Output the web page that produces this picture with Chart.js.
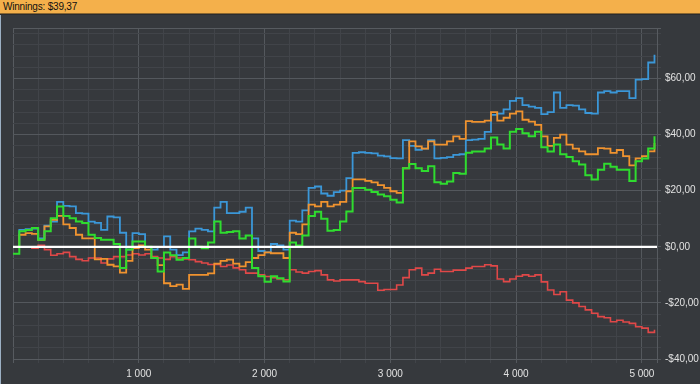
<!DOCTYPE html>
<html>
<head>
<meta charset="utf-8">
<script src="https://cdn.jsdelivr.net/npm/chart.js@4"></script>
<style>
    html, body {
        margin: 0;
        padding: 0;
        width: 700px;
        height: 384px;
        overflow: hidden;
        background: #36393d;
    }
    #header {
        height: 13px;
        background: #f4b04b;
        border-bottom: 1px solid #8a6630;
        box-shadow: 0 1px 0 #2a2c2f;
        font: 10px "Liberation Sans", Arial, sans-serif;
        letter-spacing: -0.2px;
        color: #111111;
        line-height: 13px;
        padding-left: 3px;
        white-space: nowrap;
    }
    #wrap {
        position: absolute;
        left: 0;
        top: 15px;
        width: 700px;
        height: 369px;
        border-left: 1px solid #9cb0c4;
        box-sizing: border-box;
    }
</style>
</head>
<body>
<div id="header">Winnings: $39,37</div>
<div id="wrap"><canvas id="winningsChart" width="699" height="369"></canvas></div>
<script>
// one sample every 50 trades
const tradeStep = 50;
const xTicks = [0, 200, 400, 600, 800, 1000, 1200, 1400, 1600, 1800, 2000, 2200, 2400, 2600, 2800,
    3000, 3200, 3400, 3600, 3800, 4000, 4200, 4400, 4600, 4800, 5000, 5120];
const yTicks = [-40, -36, -32, -28, -24, -20, -16, -12, -8, -4, 0, 4, 8, 12, 16, 20, 24, 28, 32,
    36, 40, 44, 48, 52, 56, 60, 64, 68, 72, 76, 78];

const blueSeries = [
    0, 6, 6.3, 6.5, 3, 7.5, 9, 16, 14.6, 14.4,
    12, 11.8, 9, 8.5, 6, 10.8, 10.5, 5, -1, 4.9,
    4.5, 0, -1, 0, 3.7, -1, -3, -2, 5.5, 6.5,
    6, 5.5, 14, 16, 12, 12, 12.5, 14, 3, -1.5,
    -2, 1, 0.5, -1, 9.3, 9, 13, 21, 21.5, 19,
    18.2, 19.5, 20, 24.5, 33.5, 33.7, 33.5, 33.3, 32.5, 32.2,
    31.6, 31.5, 38, 36, 34.6, 35, 38, 31.5, 31.7, 32,
    32.8, 33, 38, 38.2, 38.5, 41, 47, 47.5, 49, 52,
    53, 50.5, 50, 49.5, 47.3, 48, 55, 49.5, 50.5, 50.3,
    49, 47.7, 47.5, 55, 55.5, 55, 55.5, 55.5, 53, 59.6,
    59.8, 65.7, 68.5
];
const orangeSeries = [
    0, 4.3, 4.9, 4.6, 2.5, 7.3, 9.6, 11, 8, 6.7,
    4.3, 3, 3, -4.5, -4.3, -6.4, -7, -9.2, -5, -0.5,
    0.5, -1, -4, -6.5, -13, -14, -13.5, -15, -10, -10,
    -10, -9.5, -6, -5, -4.6, -6, -7, -5.5, -4, -3,
    -2, -2.3, -2.3, -4, 5, 4.5, 8, 15, 14.4, 16,
    14.4, 15, 16, 19.8, 24, 24, 23.5, 23, 22, 21,
    19.8, 19.2, 28, 37.6, 35.8, 35, 37.6, 36.4, 36.4, 37.6,
    39.4, 38.5, 44.8, 44.5, 44.5, 45, 48, 45, 46, 47.5,
    48.3, 45.3, 44.6, 43.5, 39.4, 36, 38.8, 40, 36.4, 35,
    34, 33, 33, 35.2, 35, 33.5, 34.5, 32.3, 29, 31.5,
    32.3, 34, 37
];
const greenSeries = [
    -2.5, 5.5, 6, 6.7, 2.5, 5.5, 10.2, 14.4, 11, 10.2,
    9, 8.5, 4.3, 3.1, 2.5, 2.5, 1, -7.6, -1, 1.9,
    1.9, 0, -4, -8.8, -2, -3, -4.6, -4, 3, 0,
    -0.5, 1.5, 9, 5, 5.3, 5.5, 3, 4, -7.6, -10.5,
    -12.5, -10.5, -11.2, -12.4, 1.5, 0.5, 4, 11, 12.5, 10,
    5.7, 6, 9, 12.6, 21, 21, 20.3, 19.5, 18.6, 18,
    16.8, 15.8, 28, 29.5, 28, 27, 28.7, 23, 22.5, 23.3,
    26.3, 26, 33.5, 34, 34, 35, 39, 36.5, 35, 41,
    42, 40.5, 39.4, 41, 35.5, 34, 36.5, 33, 32, 30.5,
    29.3, 25.5, 24, 27.5, 29.6, 28.5, 27.5, 27.5, 23.5, 30.5,
    31.5, 35, 39.4
];
const redSeries = [
    0, 0, 0, -0.5, 0.5, -1, -3, -2.5, -2, -3.5,
    -4.5, -5, -4, -4, -5.8, -4.3, -3.5, -3.5, -2.9, -2.5,
    -2.9, -2.5, -3.5, -4, -4.5, -3.5, -4, -4.3, -4.6, -5.3,
    -5.8, -6.3, -6.3, -7, -6.5, -7.5, -8.2, -9.4, -9.4, -10,
    -10.6, -11, -11.5, -11.8, -8.2, -9, -9.4, -8.8, -8.5, -10,
    -11.8, -12.2, -11.8, -11.8, -11.8, -12.4, -13, -13, -15.5, -15.2,
    -15.2, -13.6, -11, -8.2, -7.6, -10, -9.4, -8, -8.8, -8.8,
    -8.3, -8.3, -7.6, -7, -7, -6.4, -6.8, -11.5, -12.4, -11.5,
    -10.5, -10, -10.5, -10, -12.5, -15.4, -17, -16, -19, -20,
    -21.3, -22.5, -23.7, -24.9, -25.3, -26.7, -26.2, -26.8, -27.3, -28.5,
    -29, -30.5, -29.6
];
const zeroLine = [0, 0];
const zeroLineX = [0, 5120];

function toPoints(values) {
    return values.map((v, i) => ({ x: i * tradeStep, y: v }));
}

function series(values, color, order, width) {
    return {
        data: toPoints(values),
        borderColor: color,
        borderWidth: width,
        pointRadius: 0,
        stepped: true,
        fill: false,
        order
    };
}

const ctx = document.getElementById("winningsChart");

new Chart(ctx, {
    type: "line",
    data: {
        datasets: [
            {
                data: zeroLineX.map((x, i) => ({ x, y: zeroLine[i] })),
                borderColor: "#ffffff",
                borderWidth: 2.2,
                pointRadius: 0,
                order: 0
            },
            series(greenSeries, "#2fdc2f", 1, 2),
            series(orangeSeries, "#f0932f", 2, 1.8),
            series(blueSeries, "#3b97d8", 3, 1.8),
            series(redSeries, "#e04848", 4, 1.6)
        ]
    },
    options: {
        responsive: false,
        animation: false,
        events: [],
        layout: {
            padding: { left: 12, top: 13, right: 0, bottom: 0 }
        },
        plugins: {
            legend: { display: false },
            tooltip: { enabled: false }
        },
        scales: {
            x: {
                type: "linear",
                min: 0,
                max: 5120,
                afterBuildTicks: (scale) => {
                    scale.ticks = xTicks.map(value => ({ value }));
                },
                afterFit: (scale) => {
                    scale.height = 25;
                },
                border: { color: "#575b60", width: 1 },
                grid: {
                    tickLength: 4,
                    color: (c) => {
                        const v = c.tick.value;
                        if (v === 0 || v === 5120) return "#575b60";
                        return v % 1000 === 0 ? "#54585d" : "#414449";
                    }
                },
                ticks: {
                    autoSkip: false,
                    maxRotation: 0,
                    padding: 5,
                    color: "#e2e2e2",
                    font: { family: "Liberation Sans", size: 10 },
                    callback: (v) => (v > 0 && v % 1000 === 0) ? (v / 1000) + " 000" : ""
                }
            },
            y: {
                position: "right",
                min: -40,
                max: 78,
                afterBuildTicks: (scale) => {
                    scale.ticks = yTicks.map(value => ({ value }));
                },
                afterFit: (scale) => {
                    scale.width = 43;
                },
                border: { color: "#575b60", width: 1 },
                grid: {
                    tickLength: 4,
                    color: (c) => {
                        const v = c.tick.value;
                        if (v === 78) return "#575b60";
                        return v % 20 === 0 ? "#54585d" : "#414449";
                    }
                },
                ticks: {
                    autoSkip: false,
                    padding: 4,
                    color: "#e2e2e2",
                    font: { family: "Liberation Sans", size: 10 },
                    callback: (v) => {
                        if (v % 20 !== 0) return "";
                        const s = "$" + Math.abs(v) + ",00";
                        return v < 0 ? "-" + s : s;
                    }
                }
            }
        }
    }
});
</script>
</body>
</html>
